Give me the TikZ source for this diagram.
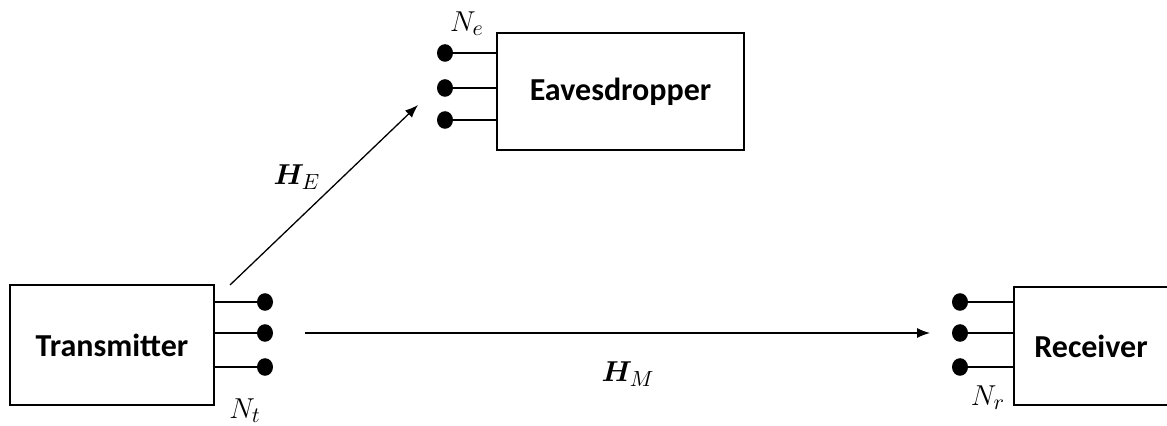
\documentclass[tikz,border=0pt]{standalone}
\usepackage{amsmath,bm}
\usepackage{fontspec}
\newfontfamily\boxfont{Carlito}
\usetikzlibrary{arrows.meta}
\tikzset{
  x=0.5pt, y=-0.5pt,
  unit/.style={draw, line width=0.75pt, inner sep=0pt, font=\boxfont\bfseries\fontsize{16}{19}\selectfont},
  ant/.style={circle, fill=black, inner sep=0pt, minimum size=8pt, yscale=1.1},
  stub/.style={line width=0.7pt},
  link/.style={line width=0.65pt, -{Latex[length=6.5pt,width=5pt]}},
  lbl/.style={font=\fontsize{15}{17}\selectfont, inner sep=0pt}
}
\begin{document}
\begin{tikzpicture}
\useasboundingbox (0,0) rectangle (1167,426);
\clip (0,0) rectangle (1167,426);
% boxes
\node[unit, minimum width=102pt, minimum height=60pt] (tx) at (112,345) {Transmitter};
\node[unit, minimum width=123.5pt, minimum height=58.5pt] (ev) at (620.5,91.5) {Eavesdropper};
\node[unit, minimum width=77pt, minimum height=59pt] (rx) at (1091,346) {Receiver};
% transmitter antennas
\foreach \i/\yy in {1/302,2/333,3/367}{
  \node[ant] (t\i) at (265,\yy) {};
  \draw[stub] (tx.east |- t\i) -- (t\i);
}
% eavesdropper antennas
\foreach \i/\yy in {1/53,2/88,3/120}{
  \node[ant] (e\i) at (445,\yy) {};
  \draw[stub] (e\i) -- (ev.west |- e\i);
}
% receiver antennas
\foreach \i/\yy in {1/302,2/333,3/367}{
  \node[ant] (r\i) at (960,\yy) {};
  \draw[stub] (r\i) -- (rx.west |- r\i);
}
% links
\coordinate (heS) at (230,285);
\coordinate (heE) at (418,105);
\draw[link] (heS) -- (heE);
\coordinate (hmS) at (305,333);
\coordinate (hmE) at (930,333);
\draw[link] (hmS) -- (hmE);
% labels
\node[lbl] (lhe) at (297,177) {$\boldsymbol{H}_E$};
\node[lbl] (lhm) at (628,374) {$\boldsymbol{H}_M$};
\node[lbl] (lnt) at (245,411) {$N_t$};
\node[lbl] (lne) at (467,24) {$N_e$};
\node[lbl] (lnr) at (988,398) {$N_r$};
\end{tikzpicture}
\end{document}
